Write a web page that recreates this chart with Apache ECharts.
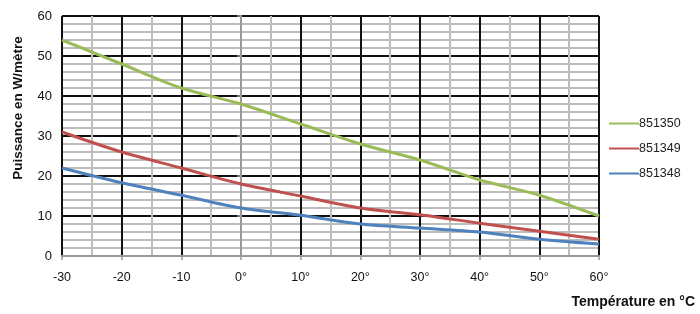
<!DOCTYPE html>
<html>
<head>
<meta charset="utf-8">
<script src="https://cdn.jsdelivr.net/npm/echarts@6/dist/echarts.min.js"></script>
<style>html,body{margin:0;padding:0;background:#fff}#c{width:700px;height:314px}</style>
</head>
<body>
<div id="c"></div>
<script>
var temperatures = [-30, -20, -10, 0, 10, 20, 30, 40, 50, 60];
var s851350 = [54, 48, 42, 38, 33, 28, 24, 19, 15.2, 10];
var s851349 = [31, 26, 22, 18, 15, 12, 10.3, 8.2, 6.2, 4.2];
var s851348 = [22, 18.3, 15.2, 12, 10.2, 8, 7, 6, 4.2, 3];
var seriesNames = ['851350', '851349', '851348'];
var seriesColors = ['#9bbb59', '#c0504d', '#4f81bd'];
var allSeries = [s851350, s851349, s851348];
var xTitle = 'Température en °C';
var yTitle = 'Puissance en W/mètre';

function xLabel(v) { return v > -1 ? v + '°' : String(v); }

var chart = echarts.init(document.getElementById('c'));
chart.setOption({
  animation: false,
  grid: { left: 62, right: 101, top: 16, bottom: 58 },
  graphic: [{
    type: 'text', x: 695, y: 302,
    style: { text: xTitle, fontFamily: 'Liberation Sans', fontWeight: 'bold', fontSize: 14, fill: '#111', align: 'right', verticalAlign: 'middle' }
  }],
  legend: {
    orient: 'vertical', left: 609, top: 117, itemGap: 12, padding: 0,
    icon: 'rect', itemWidth: 30, itemHeight: 2,
    textStyle: { fontFamily: 'Liberation Sans', fontSize: 12.5, color: '#222', padding: [0, 0, 0, -5] },
    data: seriesNames
  },
  xAxis: {
    type: 'value', min: -30, max: 60, interval: 10,
    axisLine: { show: true, onZero: false, lineStyle: { color: '#999', width: 2 } },
    axisTick: { show: true, length: 4, lineStyle: { color: '#999', width: 1.5 } },
    axisLabel: { margin: 15, fontFamily: 'Liberation Sans', fontSize: 12.5, color: '#111', formatter: xLabel },
    splitLine: { show: true, lineStyle: { color: '#111', width: 2 } },
    minorTick: { show: false, splitNumber: 2 },
    minorSplitLine: { show: true, lineStyle: { color: '#bdbdbd', width: 2 } }
  },
  yAxis: {
    type: 'value', min: 0, max: 60, interval: 10,
    name: yTitle, nameLocation: 'middle', nameGap: 37,
    nameTextStyle: { fontFamily: 'Liberation Sans', fontWeight: 'bold', fontSize: 13.5, color: '#111', padding: [0, 0, 0, 56] },
    axisLine: { show: true, lineStyle: { color: '#999', width: 2 } },
    axisTick: { show: true, length: 4, lineStyle: { color: '#999', width: 1.5 } },
    axisLabel: { margin: 10, fontFamily: 'Liberation Sans', fontSize: 13, color: '#111' },
    splitLine: { show: true, lineStyle: { color: '#111', width: 2 } },
    minorTick: { show: false, splitNumber: 5 },
    minorSplitLine: { show: true, lineStyle: { color: '#bdbdbd', width: 2 } }
  },
  series: seriesNames.map(function (n, i) {
    return {
      name: n, type: 'line', smooth: 0.3, symbol: 'none',
      color: seriesColors[i],
      lineStyle: { width: 3, color: seriesColors[i] },
      data: temperatures.map(function (t, j) { return [t, allSeries[i][j]]; })
    };
  })
});
</script>
</body>
</html>
